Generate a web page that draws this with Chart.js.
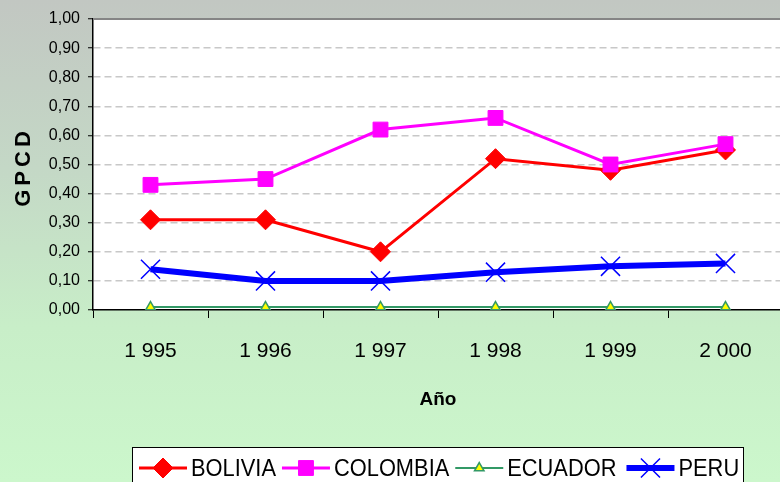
<!DOCTYPE html>
<html>
<head>
<meta charset="utf-8">
<script src="https://cdn.jsdelivr.net/npm/chart.js@4.4.1/dist/chart.umd.min.js"></script>
<style>
  html, body { margin: 0; padding: 0; overflow: hidden; }
  #wrap {
    width: 780px; height: 482px; overflow: hidden;
    background: linear-gradient(to bottom, #c2c7c2 0%, #c4d8c6 35%, #c8eec8 68%, #ccf7cc 100%);
  }
  canvas { display: block; }
</style>
</head>
<body>
<div id="wrap"><canvas id="chart" width="783" height="482"></canvas></div>
<script>
const years = ["1 995", "1 996", "1 997", "1 998", "1 999", "2 000"];
const bolivia = [0.31, 0.31, 0.20, 0.52, 0.48, 0.55];
const colombia = [0.43, 0.45, 0.62, 0.66, 0.50, 0.57];
const ecuador = [0.01, 0.01, 0.01, 0.01, 0.01, 0.01];
const peru = [0.14, 0.10, 0.10, 0.13, 0.15, 0.16];

const yMin = 0;
const yMax = 1;
const yStep = 0.1;

const FONT = "'Liberation Sans', Arial, sans-serif";

// white plot area + grey top edge
const plotBg = {
  id: "plotBg",
  beforeDraw(chart) {
    const { ctx, chartArea: a } = chart;
    ctx.save();
    ctx.fillStyle = "#ffffff";
    ctx.fillRect(a.left, a.top, a.right - a.left, a.bottom - a.top);
    ctx.restore();
  },
  beforeDatasetsDraw(chart) {
    const { ctx, chartArea: a } = chart;
    ctx.save();
    ctx.strokeStyle = "#858585";
    ctx.lineWidth = 2;
    ctx.beginPath();
    ctx.moveTo(a.left, a.top);
    ctx.lineTo(a.right, a.top);
    ctx.stroke();
    ctx.restore();
  }
};

// spaced-out vertical axis title
const yTitle = {
  id: "yTitle",
  afterDraw(chart) {
    const { ctx } = chart;
    ctx.save();
    ctx.translate(24, 169);
    ctx.rotate(-Math.PI / 2);
    ctx.font = "bold 22px " + FONT;
    ctx.letterSpacing = "4px";
    ctx.fillStyle = "#000";
    ctx.textBaseline = "middle";
    ctx.textAlign = "left";
    const w = ctx.measureText("GPCD").width - 4;
    ctx.fillText("GPCD", -w / 2, 0);
    ctx.restore();
  }
};

function drawMarker(ctx, ds, x, y) {
  ctx.save();
  ctx.fillStyle = ds.pointBackgroundColor;
  ctx.strokeStyle = ds.pointBorderColor;
  ctx.lineWidth = ds.pointBorderWidth;
  Chart.helpers.drawPoint(ctx, {
    pointStyle: ds.pointStyle,
    radius: ds.pointRadius,
    rotation: 0,
    borderWidth: ds.pointBorderWidth
  }, x, y);
  ctx.restore();
}

// Excel-like legend: line segment with marker, then label
const boxLegend = {
  id: "boxLegend",
  afterDraw(chart) {
    const { ctx } = chart;
    ctx.save();
    ctx.fillStyle = "#ffffff";
    ctx.strokeStyle = "#000000";
    ctx.lineWidth = 1;
    ctx.fillRect(132, 447, 611, 45);
    ctx.strokeRect(132.5, 447.5, 611, 45);

    let x = 139;
    const y = 468;
    ctx.font = "21px " + FONT;
    chart.data.datasets.forEach((ds, i) => {
      ctx.strokeStyle = ds.borderColor;
      ctx.lineWidth = ds.borderWidth;
      ctx.beginPath();
      ctx.moveTo(x, y);
      ctx.lineTo(x + 48, y);
      ctx.stroke();
      drawMarker(ctx, ds, x + 24, y);
      x += 52;
      const tw = ctx.measureText(ds.label).width * 1.04;
      ctx.save();
      ctx.translate(x, y + 1);
      ctx.scale(1.04, 1.18);
      ctx.fillStyle = "#000";
      ctx.textBaseline = "middle";
      ctx.textAlign = "left";
      ctx.fillText(ds.label, 0, 0);
      ctx.restore();
      x += tw + (i === 2 ? 10 : 6);
    });
    ctx.restore();
  }
};

const fmt = (v) => v.toFixed(2).replace(".", ",");

new Chart(document.getElementById("chart"), {
  type: "line",
  data: {
    labels: years,
    datasets: [
      {
        label: "BOLIVIA",
        data: bolivia,
        borderColor: "#ff0000",
        borderWidth: 3,
        pointStyle: "rectRot",
        pointRadius: 10,
        pointBackgroundColor: "#ff0000",
        pointBorderColor: "#ff0000",
        pointBorderWidth: 1,
        order: 4
      },
      {
        label: "COLOMBIA",
        data: colombia,
        borderColor: "#ff00ff",
        borderWidth: 3,
        pointStyle: "rect",
        pointRadius: 10.5,
        pointBackgroundColor: "#ff00ff",
        pointBorderColor: "#ff00ff",
        pointBorderWidth: 1,
        order: 3
      },
      {
        label: "ECUADOR",
        data: ecuador,
        borderColor: "#339966",
        borderWidth: 2,
        pointStyle: "triangle",
        pointRadius: 5.5,
        pointBackgroundColor: "#ffff00",
        pointBorderColor: "#339966",
        pointBorderWidth: 1.5,
        order: 2
      },
      {
        label: "PERU",
        data: peru,
        borderColor: "#0000ff",
        borderWidth: 6,
        pointStyle: "crossRot",
        pointRadius: 13.5,
        pointBackgroundColor: "#0000ff",
        pointBorderColor: "#0000ff",
        pointBorderWidth: 1.5,
        order: 1
      }
    ]
  },
  options: {
    responsive: false,
    animation: false,
    layout: { autoPadding: false, padding: { top: 19, left: 0, right: 0, bottom: 0 } },
    plugins: {
      legend: { display: false },
      tooltip: { enabled: false }
    },
    elements: { line: { tension: 0 } },
    scales: {
      x: {
        offset: true,
        afterFit: (s) => { s.height = 172; },
        grid: {
          offset: true,
          drawOnChartArea: false,
          tickLength: 8,
          color: "#000",
          tickColor: "#000",
          lineWidth: 1
        },
        border: { color: "#000", width: 1.5 },
        ticks: {
          color: "#000",
          padding: 21,
          font: { family: FONT, size: 21 }
        },
        title: {
          display: true,
          text: "Año",
          color: "#000",
          font: { family: FONT, size: 19, weight: "bold" },
          padding: { top: 0, bottom: 71 }
        }
      },
      y: {
        min: yMin,
        max: yMax,
        afterFit: (s) => { s.width = 93; },
        grid: {
          color: (c) => (c.tick && (c.tick.value === 0 || c.tick.value === 1) ? "rgba(0,0,0,0)" : "#c8c8c8"),
          lineWidth: 1.5,
          tickLength: 5,
          tickColor: "#000",
          tickWidth: 1,
          tickBorderDash: []
        },
        border: { color: "#000", width: 1.5, dash: [7, 4] },
        ticks: {
          stepSize: yStep,
          color: "#000",
          padding: 8,
          font: { family: FONT, size: 16 },
          callback: (v) => fmt(v)
        }
      }
    }
  },
  plugins: [plotBg, yTitle, boxLegend]
});
</script>
</body>
</html>
